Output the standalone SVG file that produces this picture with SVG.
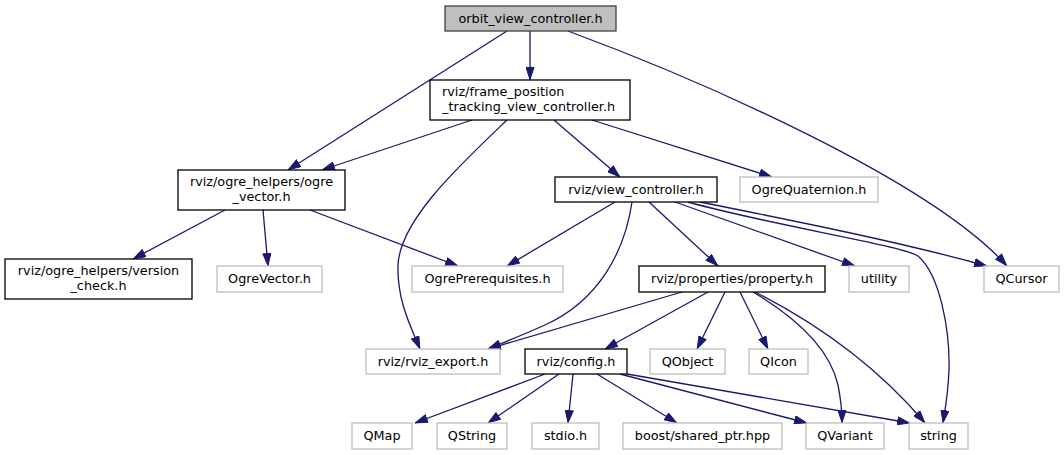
<svg xmlns="http://www.w3.org/2000/svg" width="1064" height="455" viewBox="0 0 1064 455">
<style>
text{font-family:"DejaVu Sans","Liberation Sans",sans-serif;font-size:12.8px;fill:#000}
.c{text-anchor:middle}
.n rect{fill:#fff;stroke:#000;stroke-width:1.3}
.g rect{fill:#fff;stroke:#bfbfbf;stroke-width:1.3}
.r rect{fill:#bfbfbf;stroke:#404040;stroke-width:1.3}
#edges path{fill:none;stroke:#191970;stroke-width:1.3;marker-end:url(#a)}
</style>
<defs>
<marker id="a" viewBox="0 0 13 9" refX="13" refY="4.5" markerWidth="13" markerHeight="9" markerUnits="userSpaceOnUse" orient="auto">
<path d="M0.5,0.5 L12.5,4.5 L0.5,8.5 z" fill="#191970" stroke="#191970" stroke-width="1"/>
</marker>
</defs>
<rect width="1064" height="455" fill="#fff"/>
<g id="edges">
<path d="M530,31 L530,80"/>
<path d="M507,31 L288,170"/>
<path d="M568,31 C700,80 930,180 1007,266"/>
<path d="M472,120 L322,170"/>
<path d="M507,120 C460,165 400,220 398,265 C397,300 410,325 420,349"/>
<path d="M554,120 L620,177"/>
<path d="M592,120 L772,177"/>
<path d="M225,210 L133,259"/>
<path d="M263,210 L268,266"/>
<path d="M310,210 L458,266"/>
<path d="M615,202 L507,266"/>
<path d="M632,202 C625,250 600,300 545,325 C525,334 505,342 488,349"/>
<path d="M682,292 L488,349"/>
<path d="M649,202 L718,266"/>
<path d="M675,202 L855,266"/>
<path d="M688,202 C770,225 900,245 918,256 C940,275 950,330 949,370 C948,395 945,410 943,423"/>
<path d="M700,202 C800,222 900,242 987,266"/>
<path d="M708,292 L605,349"/>
<path d="M725,292 L697,349"/>
<path d="M740,292 L768,349"/>
<path d="M753,292 C800,320 830,350 838,385 C841,400 842,410 842,423"/>
<path d="M755,292 C820,325 880,370 925,423"/>
<path d="M545,374 L415,423"/>
<path d="M559,374 L488,423"/>
<path d="M573,374 L568,423"/>
<path d="M597,374 L677,423"/>
<path d="M620,374 L807,423"/>
<path d="M627,374 L910,423"/>
</g>
<g id="orbit" class="r"><rect x="445" y="6" width="171" height="25"/><text class="c" x="530.5" y="23">orbit_view_controller.h</text></g>
<g id="frame" class="n"><rect x="430" y="80" width="200" height="40"/><text x="442" y="96">rviz/frame_position</text><text x="442" y="111">_tracking_view_controller.h</text></g>
<g id="ogre_vector" class="n"><rect x="178" y="170" width="167" height="40"/><text class="c" x="261.5" y="186">rviz/ogre_helpers/ogre</text><text class="c" x="261.5" y="201">_vector.h</text></g>
<g id="view_controller" class="n"><rect x="555" y="177" width="162" height="25"/><text class="c" x="636" y="194">rviz/view_controller.h</text></g>
<g id="ogre_quaternion" class="g"><rect x="740" y="177" width="138" height="25"/><text class="c" x="809" y="194">OgreQuaternion.h</text></g>
<g id="version_check" class="n"><rect x="5" y="259" width="187" height="40"/><text class="c" x="98.5" y="275">rviz/ogre_helpers/version</text><text class="c" x="98.5" y="290">_check.h</text></g>
<g id="ogre_vector_h" class="g"><rect x="217" y="266" width="105" height="26"/><text class="c" x="269.5" y="283">OgreVector.h</text></g>
<g id="ogre_prereq" class="g"><rect x="412" y="266" width="151" height="26"/><text class="c" x="487.5" y="283">OgrePrerequisites.h</text></g>
<g id="property" class="n"><rect x="639" y="266" width="186" height="26"/><text class="c" x="732" y="283">rviz/properties/property.h</text></g>
<g id="utility" class="g"><rect x="849" y="266" width="60" height="26"/><text class="c" x="879" y="283">utility</text></g>
<g id="qcursor" class="g"><rect x="984" y="266" width="75" height="26"/><text class="c" x="1021.5" y="283">QCursor</text></g>
<g id="rviz_export" class="g"><rect x="366" y="349" width="134" height="25"/><text class="c" x="433" y="366">rviz/rviz_export.h</text></g>
<g id="config" class="n"><rect x="525" y="349" width="102" height="25"/><text class="c" x="576" y="366">rviz/config.h</text></g>
<g id="qobject" class="g"><rect x="650" y="349" width="75" height="25"/><text class="c" x="687.5" y="366">QObject</text></g>
<g id="qicon" class="g"><rect x="749" y="349" width="59" height="25"/><text class="c" x="778.5" y="366">QIcon</text></g>
<g id="qmap" class="g"><rect x="352" y="423" width="60" height="26"/><text class="c" x="382" y="440">QMap</text></g>
<g id="qstring" class="g"><rect x="437" y="423" width="70" height="26"/><text class="c" x="472" y="440">QString</text></g>
<g id="stdio" class="g"><rect x="532" y="423" width="67" height="26"/><text class="c" x="565.5" y="440">stdio.h</text></g>
<g id="boost" class="g"><rect x="623" y="423" width="159" height="26"/><text class="c" x="702.5" y="440">boost/shared_ptr.hpp</text></g>
<g id="qvariant" class="g"><rect x="806" y="423" width="78" height="26"/><text class="c" x="845" y="440">QVariant</text></g>
<g id="string" class="g"><rect x="909" y="423" width="59" height="26"/><text class="c" x="938.5" y="440">string</text></g>
</svg>
